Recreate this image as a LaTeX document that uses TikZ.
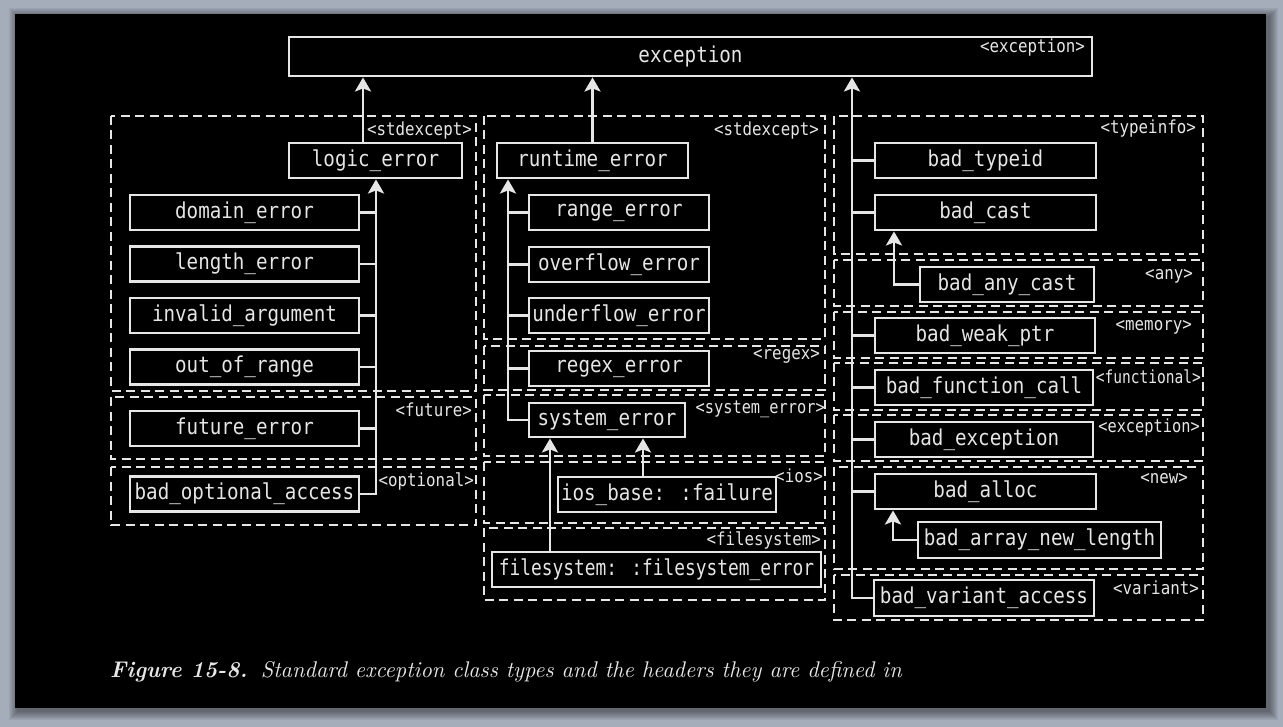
\documentclass[tikz,border=0pt]{standalone}
\usepackage{fontspec}
\usepackage{graphicx}
\newfontfamily\monof{DejaVu Sans Mono}
\newcommand\bxs[2][1]{\raisebox{-2pt}{\scalebox{#1}[1.14]{#2}}}
\newcommand\bx[1]{\bxs{#1}}
\usetikzlibrary{arrows.meta}
\definecolor{bggray}{HTML}{A5ACBA}
\definecolor{ink}{HTML}{E6E6E6}
\begin{document}
\begin{tikzpicture}[x=1pt,y=-1pt,
 box/.style={draw=ink, line width=2.9pt, text=ink, font=\monof\fontsize{19.2}{22}\selectfont, inner sep=0pt, minimum height=35pt},
 grp/.style={draw=ink, line width=2.8pt, dash pattern=on 9pt off 5.5pt},
 hdr/.style={text=ink, font=\monof\fontsize{15.8}{18}\selectfont, inner sep=0pt, anchor=east},
 con/.style={draw=ink, line width=2.9pt},
 arr/.style={con, -{Stealth[length=14pt,width=16pt,inset=3pt]}},
]
\useasboundingbox (0,0) rectangle (1283,727);
\fill[bggray] (0,0) rectangle (1283,727);
\foreach \i in {1,...,9}{
  \fill[black, opacity=0.05] (15-\i+3,14-\i+3) rectangle (1266+\i+3,708+\i+3);
}
\fill[black] (15,14) rectangle (1266,708);

% ---------- dashed header groups ----------
\draw[grp] (111,116) rectangle (476,391);
\draw[grp] (111,397) rectangle (476,459);
\draw[grp] (111,467) rectangle (476,525);
\draw[grp] (484,116) rectangle (825,339);
\draw[grp] (484,346) rectangle (825,390);
\draw[grp] (484,395) rectangle (825,456);
\draw[grp] (484,462) rectangle (825,523);
\draw[grp] (484,528) rectangle (825,600);
\draw[grp] (834,116) rectangle (1203,254);
\draw[grp] (834,260) rectangle (1203,306);
\draw[grp] (834,312) rectangle (1203,358);
\draw[grp] (834,363) rectangle (1203,410);
\draw[grp] (834,415) rectangle (1203,461);
\draw[grp] (834,467) rectangle (1203,569);
\draw[grp] (834,575) rectangle (1203,620);

% ---------- header labels ----------
\node[hdr] (h1) at (472,131) {\bx{<stdexcept>}};
\node[hdr] (h2) at (472,410) {\bx{<future>}};
\node[hdr] (h3) at (474,481) {\bx{<optional>}};
\node[hdr] (h4) at (819,131) {\bx{<stdexcept>}};
\node[hdr] (h5) at (820,356) {\bx{<regex>}};
\node[hdr] (h6) at (825,409) {\bxs[0.97]{<system\_error>}};
\node[hdr] (h7) at (823,476) {\bx{<ios>}};
\node[hdr] (h8) at (821,540) {\bx{<filesystem>}};
\node[hdr] (h9) at (1196,129) {\bx{<typeinfo>}};
\node[hdr] (h10) at (1193,276) {\bx{<any>}};
\node[hdr] (h11) at (1192,327) {\bx{<memory>}};
\node[hdr] (h12) at (1201,377) {\bxs[0.92]{<functional>}};
\node[hdr] (h13) at (1200,428) {\bxs[0.97]{<exception>}};
\node[hdr] (h14) at (1188,479) {\bx{<new>}};
\node[hdr] (h15) at (1199,588) {\bx{<variant>}};

% ---------- class boxes ----------
\node[box, minimum width=803pt, minimum height=39pt] (exc) at (690.5,56.5) {\raisebox{-1pt}{\bx{exception}}};
\node[hdr] (hexc) at (1085,48) {\bx{<exception>}};

\node[box, minimum width=173pt] (logic) at (375.5,160.5) {\bx{logic\_error}};
\node[box, minimum width=229pt] (domain) at (244.5,212.5) {\bx{domain\_error}};
\node[box, minimum width=229pt] (length) at (244.5,264) {\bx{length\_error}};
\node[box, minimum width=229pt] (invalid) at (244.5,315.5) {\bx{invalid\_argument}};
\node[box, minimum width=229pt] (oor) at (244.5,367) {\bx{out\_of\_range}};
\node[box, minimum width=229pt] (future) at (244.5,428.5) {\bx{future\_error}};
\node[box, minimum width=229pt] (optional) at (244.5,494) {\bx{bad\_optional\_access}};

\node[box, minimum width=191pt] (runtime) at (592.5,160.5) {\bx{runtime\_error}};
\node[box, minimum width=180pt] (range) at (619,212.5) {\bx{range\_error}};
\node[box, minimum width=180pt] (overflow) at (619,264.5) {\bx{overflow\_error}};
\node[box, minimum width=180pt] (underflow) at (619,315.5) {\bx{underflow\_error}};
\node[box, minimum width=180pt] (regex) at (619,368.5) {\bx{regex\_error}};
\node[box, minimum width=156pt, minimum height=34pt] (system) at (607,420) {\bx{system\_error}};
\node[box, minimum width=218pt] (ios) at (667,494.5) {\bx{ios\_base: :failure}};
\node[box, minimum width=329pt] (fs) at (656.5,569.5) {\bxs[0.93]{filesystem: :filesystem\_error}};

\node[box, minimum width=221pt] (typeid) at (985.5,160.5) {\bx{bad\_typeid}};
\node[box, minimum width=221pt] (cast) at (985.5,212.5) {\bx{bad\_cast}};
\node[box, minimum width=174pt] (anycast) at (1007,284.5) {\bx{bad\_any\_cast}};
\node[box, minimum width=220pt] (weak) at (985,335.5) {\bx{bad\_weak\_ptr}};
\node[box, minimum width=218pt] (func) at (984,387.5) {\bx{bad\_function\_call}};
\node[box, minimum width=218pt] (badexc) at (984,439.5) {\bx{bad\_exception}};
\node[box, minimum width=221pt] (alloc) at (985.5,491.5) {\bx{bad\_alloc}};
\node[box, minimum width=243pt, minimum height=36pt] (arraynew) at (1039.5,540) {\bx{bad\_array\_new\_length}};
\node[box, minimum width=220pt, minimum height=36pt] (variant) at (984,598) {\bx{bad\_variant\_access}};

% ---------- connectors ----------
\coordinate (lbus) at (376,0);
\coordinate (mbus) at (508,0);
\coordinate (rbus) at (852,0);

\draw[arr] ([xshift=-12.5pt]logic.north) -- ([xshift=-12.5pt]logic.north |- exc.south);
\draw[arr] (runtime.north) -- (runtime.north |- exc.south);
\draw[arr] (variant.west) -| (rbus |- exc.south);
\foreach \n in {typeid,cast,weak,func,badexc,alloc}{
  \draw[con] (\n.west) -- (\n.west -| rbus);
}
\draw[arr] (optional.east) -| (lbus |- logic.south);
\foreach \n in {domain,length,invalid,oor,future}{
  \draw[con] (\n.east) -- (\n.east -| lbus);
}
\draw[arr] (system.west) -| (mbus |- runtime.south);
\foreach \n in {range,overflow,underflow,regex}{
  \draw[con] (\n.west) -- (\n.west -| mbus);
}
\draw[arr] ([xshift=-24pt]ios.north) -- ([xshift=-24pt]ios.north |- system.south);
\draw[arr] ([xshift=-106.5pt]fs.north) -- ([xshift=-106.5pt]fs.north |- system.south);
\draw[arr] (anycast.west) -| ([xshift=-91.5pt]cast.south);
\draw[arr] (arraynew.west) -| ([xshift=-92.5pt]alloc.south);

% ---------- caption ----------
\node[anchor=base west, inner sep=0pt, text=ink] (cap) at (110,677)
  {\resizebox{792pt}{16pt}{\fontsize{10}{12}\selectfont\textbf{\textit{Figure 15-8.}}\hspace{0.6em}\textit{Standard exception class types and the headers they are defined in}}};
\end{tikzpicture}
\end{document}
